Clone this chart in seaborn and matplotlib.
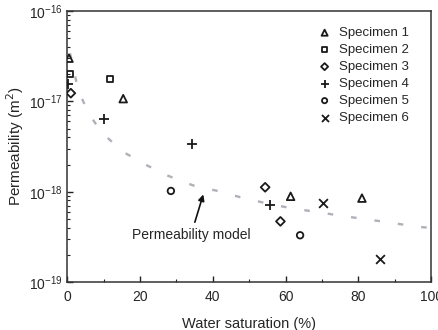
import numpy as np
import pandas as pd
import matplotlib
matplotlib.use("Agg")
import matplotlib.pyplot as plt
import seaborn as sns

# Measured permeability per specimen: water saturation (%) and permeability (m^2)
spec1_sw = [0.5, 15.4, 61.4, 81.0]
spec1_k = [3.0e-17, 1.07e-17, 8.9e-19, 8.5e-19]
spec2_sw = [0.8, 11.8]
spec2_k = [2.0e-17, 1.77e-17]
spec3_sw = [1.0, 54.4, 58.6]
spec3_k = [1.23e-17, 1.12e-18, 4.7e-19]
spec4_sw = [0.3, 10.2, 34.2, 55.8]
spec4_k = [1.55e-17, 6.4e-18, 3.4e-18, 7.2e-19]
spec5_sw = [28.5, 64.0]
spec5_k = [1.02e-18, 3.3e-19]
spec6_sw = [70.4, 86.0]
spec6_k = [7.5e-19, 1.8e-19]

# Permeability model curve
model_sw = [0.8, 1.4, 3.0, 5.8, 9.6, 15.4, 22.0, 27.5, 34.6, 41.2, 48.4,
            55.0, 61.3, 69.5, 76.0, 83.2, 90.0, 97.0, 100.0]
model_logk = [-16.47, -16.58, -16.87, -17.13, -17.35, -17.56, -17.71, -17.82,
              -17.93, -17.99, -18.07, -18.13, -18.18, -18.23, -18.27, -18.31,
              -18.35, -18.39, -18.40]

specimens = ["Specimen 1", "Specimen 2", "Specimen 3",
             "Specimen 4", "Specimen 5", "Specimen 6"]

sns.set_style("ticks")
plt.rcParams["font.family"] = ["Liberation Sans", "DejaVu Sans"]
plt.rcParams["lines.scale_dashes"] = False

fig = plt.figure(figsize=(4.39, 3.30), dpi=100)
ax = fig.add_axes([0.153, 0.145, 0.829, 0.822])

model = pd.DataFrame({"sw": model_sw, "k": np.power(10.0, model_logk)})
sns.lineplot(data=model, x="sw", y="k", ax=ax, color="#b0b0b8", lw=1.7,
             linestyle=(0, (4, 13)), legend=False)

series = [
    (spec1_sw, spec1_k, "^", True, 30),
    (spec2_sw, spec2_k, "s", True, 20),
    (spec3_sw, spec3_k, "D", True, 20),
    (spec4_sw, spec4_k, "+", False, 45),
    (spec5_sw, spec5_k, "o", True, 22),
    (spec6_sw, spec6_k, "x", False, 40),
]
for name, (sw, k, mk, filled, size) in zip(specimens, series):
    df = pd.DataFrame({"sw": sw, "k": k})
    if filled:
        sns.scatterplot(data=df, x="sw", y="k", ax=ax, marker=mk, s=size,
                        facecolor="none", edgecolor="#1a1a1a", linewidth=1.3,
                        label=name, zorder=3)
    else:
        sns.scatterplot(data=df, x="sw", y="k", ax=ax, marker=mk, s=size,
                        color="#1a1a1a", linewidth=1.3, label=name, zorder=3)

ax.set_yscale("log")
ax.set_xlim(0, 100)
ax.set_ylim(1e-19, 1e-16)
ax.set_xticks([0, 20, 40, 60, 80, 100])
ax.set_xticks([10, 30, 50, 70, 90], minor=True)
ax.tick_params(axis="both", which="both", direction="in", labelsize=10,
               color="#222222")
ax.tick_params(axis="both", which="major", length=4, width=1)
ax.tick_params(axis="x", which="major", pad=6)
ax.tick_params(axis="both", which="minor", length=2.5, width=0.8)
ax.tick_params(right=False, top=False, which="both")
for sp in ax.spines.values():
    sp.set_linewidth(1.1)
    sp.set_color("#333333")

ax.set_xlabel("Water saturation (%)", fontsize=10.5, labelpad=9)
ax.set_ylabel("Permeability (m$^2$)", fontsize=11, labelpad=2)

ax.annotate("Permeability model", xy=(37.4, 10 ** -18.03),
            xytext=(34, 10 ** -18.48), ha="center", va="center", fontsize=10,
            arrowprops=dict(arrowstyle="-|>", color="#111111", lw=1.2,
                            shrinkA=2, shrinkB=0, mutation_scale=9))

leg = ax.legend(loc="upper right", bbox_to_anchor=(0.965, 0.975), frameon=False,
                fontsize=9.5, handletextpad=0.7, labelspacing=0.36,
                handlelength=0.8, borderaxespad=0.3, markerscale=0.8)

fig.savefig("out.png", dpi=100)
